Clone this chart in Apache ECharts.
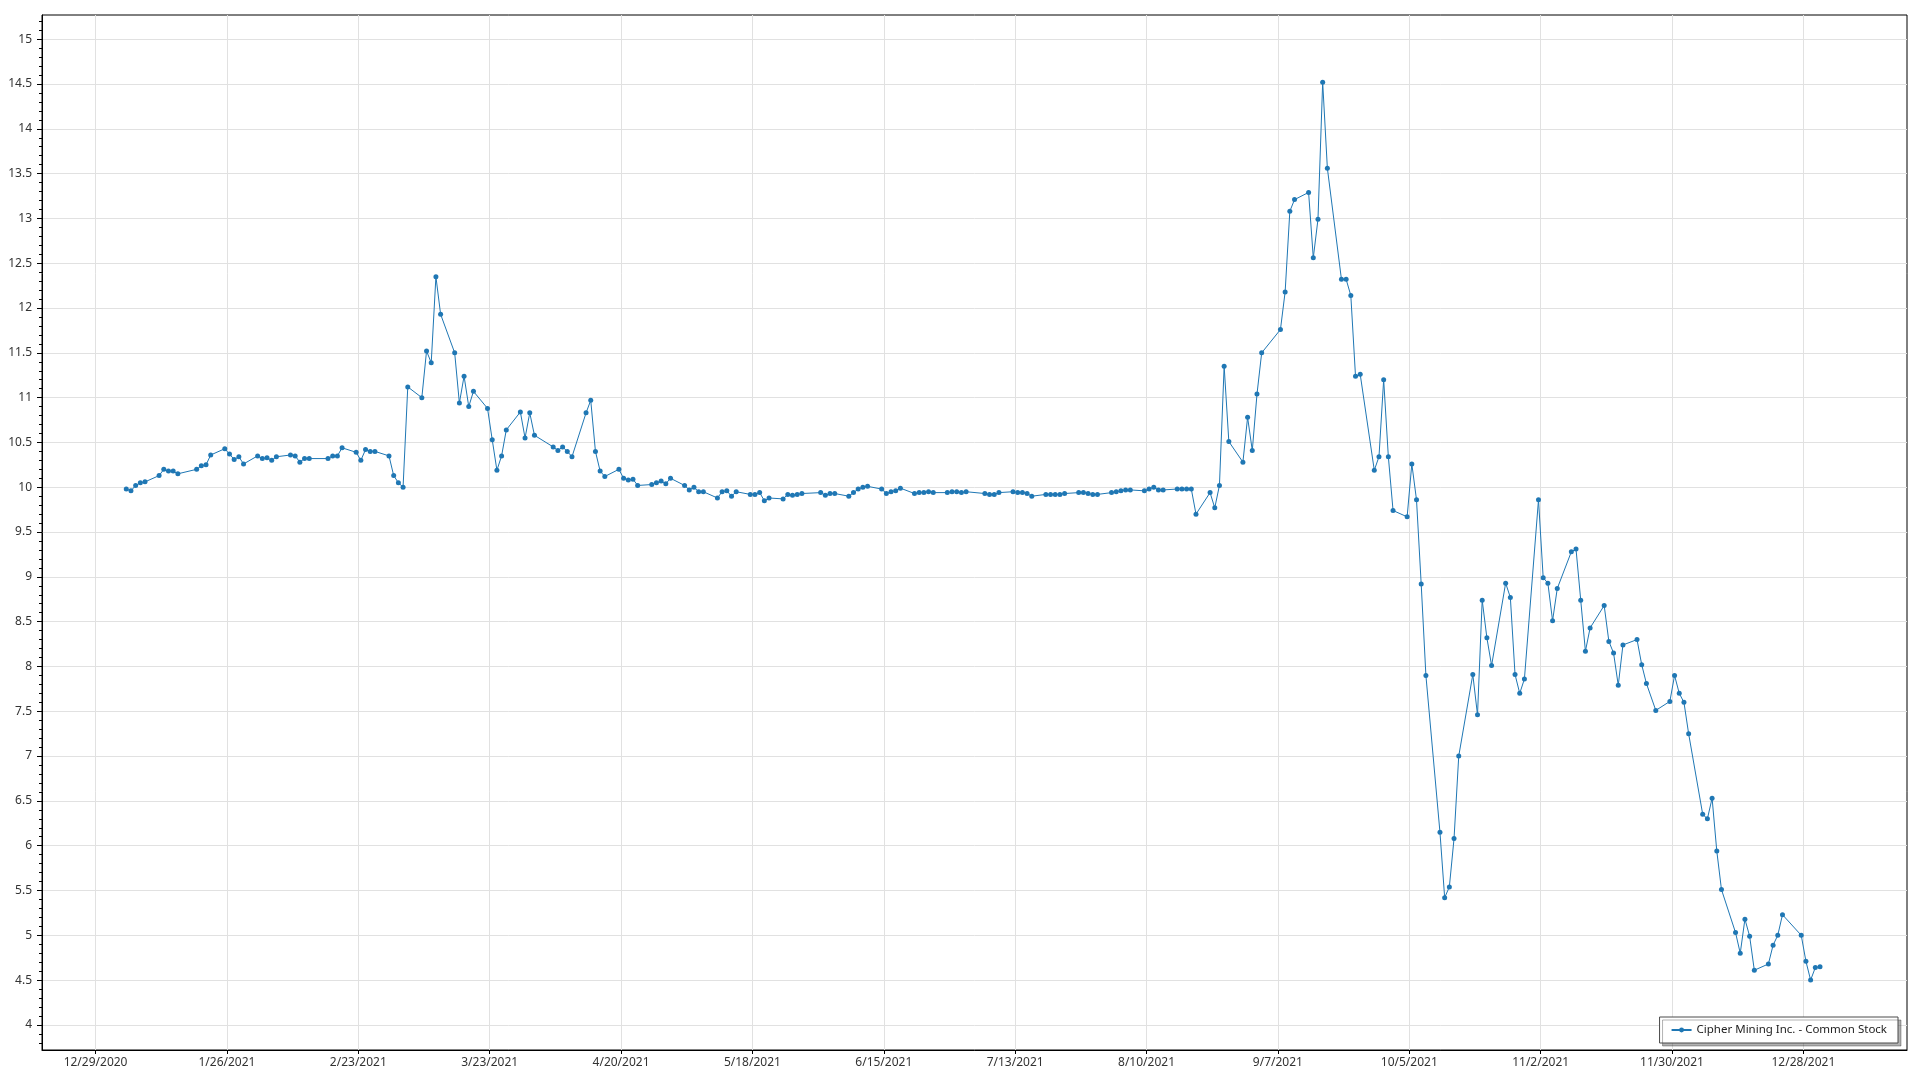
<!DOCTYPE html>
<html>
<head>
<meta charset="utf-8">
<script src="https://cdn.jsdelivr.net/npm/echarts@6/dist/echarts.min.js"></script>
<style>
html,body{margin:0;padding:0;background:#fff;}
#chart{width:1920px;height:1080px;}
</style>
</head>
<body>
<div id="chart"></div>
<script>
const seriesName = 'Cipher Mining Inc. - Common Stock';

const dates = [
'2021-01-04','2021-01-05','2021-01-06','2021-01-07','2021-01-08',
'2021-01-11','2021-01-12','2021-01-13','2021-01-14','2021-01-15',
'2021-01-19','2021-01-20','2021-01-21','2021-01-22',
'2021-01-25','2021-01-26','2021-01-27','2021-01-28','2021-01-29',
'2021-02-01','2021-02-02','2021-02-03','2021-02-04','2021-02-05',
'2021-02-08','2021-02-09','2021-02-10','2021-02-11','2021-02-12',
'2021-02-16','2021-02-17','2021-02-18','2021-02-19',
'2021-02-22','2021-02-23','2021-02-24','2021-02-25','2021-02-26',
'2021-03-01','2021-03-02','2021-03-03','2021-03-04','2021-03-05',
'2021-03-08','2021-03-09','2021-03-10','2021-03-11','2021-03-12',
'2021-03-15','2021-03-16','2021-03-17','2021-03-18','2021-03-19',
'2021-03-22','2021-03-23','2021-03-24','2021-03-25','2021-03-26',
'2021-03-29','2021-03-30','2021-03-31','2021-04-01',
'2021-04-05','2021-04-06','2021-04-07','2021-04-08','2021-04-09',
'2021-04-12','2021-04-13','2021-04-14','2021-04-15','2021-04-16',
'2021-04-19','2021-04-20','2021-04-21','2021-04-22','2021-04-23',
'2021-04-26','2021-04-27','2021-04-28','2021-04-29','2021-04-30',
'2021-05-03','2021-05-04','2021-05-05','2021-05-06','2021-05-07',
'2021-05-10','2021-05-11','2021-05-12','2021-05-13','2021-05-14',
'2021-05-17','2021-05-18','2021-05-19','2021-05-20','2021-05-21',
'2021-05-24','2021-05-25','2021-05-26','2021-05-27','2021-05-28',
'2021-06-01','2021-06-02','2021-06-03','2021-06-04',
'2021-06-07','2021-06-08','2021-06-09','2021-06-10','2021-06-11',
'2021-06-14','2021-06-15','2021-06-16','2021-06-17','2021-06-18',
'2021-06-21','2021-06-22','2021-06-23','2021-06-24','2021-06-25',
'2021-06-28','2021-06-29','2021-06-30','2021-07-01','2021-07-02',
'2021-07-06','2021-07-07','2021-07-08','2021-07-09',
'2021-07-12','2021-07-13','2021-07-14','2021-07-15','2021-07-16',
'2021-07-19','2021-07-20','2021-07-21','2021-07-22','2021-07-23',
'2021-07-26','2021-07-27','2021-07-28','2021-07-29','2021-07-30',
'2021-08-02','2021-08-03','2021-08-04','2021-08-05','2021-08-06',
'2021-08-09','2021-08-10','2021-08-11','2021-08-12','2021-08-13',
'2021-08-16','2021-08-17','2021-08-18','2021-08-19','2021-08-20',
'2021-08-23','2021-08-24','2021-08-25','2021-08-26','2021-08-27',
'2021-08-30','2021-08-31','2021-09-01','2021-09-02','2021-09-03',
'2021-09-07','2021-09-08','2021-09-09','2021-09-10',
'2021-09-13','2021-09-14','2021-09-15','2021-09-16','2021-09-17',
'2021-09-20','2021-09-21','2021-09-22','2021-09-23','2021-09-24',
'2021-09-27','2021-09-28','2021-09-29','2021-09-30','2021-10-01',
'2021-10-04','2021-10-05','2021-10-06','2021-10-07','2021-10-08',
'2021-10-11','2021-10-12','2021-10-13','2021-10-14','2021-10-15',
'2021-10-18','2021-10-19','2021-10-20','2021-10-21','2021-10-22',
'2021-10-25','2021-10-26','2021-10-27','2021-10-28','2021-10-29',
'2021-11-01','2021-11-02','2021-11-03','2021-11-04','2021-11-05',
'2021-11-08','2021-11-09','2021-11-10','2021-11-11','2021-11-12',
'2021-11-15','2021-11-16','2021-11-17','2021-11-18','2021-11-19',
'2021-11-22','2021-11-23','2021-11-24','2021-11-26',
'2021-11-29','2021-11-30','2021-12-01','2021-12-02','2021-12-03',
'2021-12-06','2021-12-07','2021-12-08','2021-12-09','2021-12-10',
'2021-12-13','2021-12-14','2021-12-15','2021-12-16','2021-12-17',
'2021-12-20','2021-12-21','2021-12-22','2021-12-23',
'2021-12-27','2021-12-28','2021-12-29','2021-12-30','2021-12-31'
];

const prices = [
9.98,9.96,10.02,10.05,10.06,
10.13,10.20,10.18,10.18,10.15,
10.20,10.24,10.25,10.36,
10.43,10.37,10.31,10.34,10.26,
10.35,10.32,10.33,10.30,10.34,
10.36,10.35,10.28,10.32,10.32,
10.32,10.35,10.35,10.44,
10.39,10.30,10.42,10.40,10.40,
10.35,10.13,10.05,10.00,11.12,
11.00,11.52,11.39,12.35,11.93,
11.50,10.94,11.24,10.90,11.07,
10.88,10.53,10.19,10.35,10.64,
10.84,10.55,10.83,10.58,
10.45,10.41,10.45,10.40,10.34,
10.83,10.97,10.40,10.18,10.12,
10.20,10.10,10.08,10.09,10.02,
10.03,10.05,10.07,10.04,10.10,
10.02,9.97,10.00,9.95,9.95,
9.88,9.95,9.96,9.90,9.95,
9.92,9.92,9.94,9.85,9.88,
9.87,9.92,9.91,9.92,9.93,
9.94,9.91,9.93,9.93,
9.90,9.94,9.98,10.00,10.01,
9.98,9.93,9.95,9.96,9.99,
9.93,9.94,9.94,9.95,9.94,
9.94,9.95,9.95,9.94,9.95,
9.93,9.92,9.92,9.94,
9.95,9.94,9.94,9.93,9.90,
9.92,9.92,9.92,9.92,9.93,
9.94,9.94,9.93,9.92,9.92,
9.94,9.95,9.96,9.97,9.97,
9.96,9.98,10.00,9.97,9.97,
9.98,9.98,9.98,9.98,9.70,
9.94,9.77,10.02,11.35,10.51,
10.28,10.78,10.41,11.04,11.50,
11.76,12.18,13.08,13.21,
13.29,12.56,12.99,14.52,13.56,
12.32,12.32,12.14,11.24,11.26,
10.19,10.34,11.20,10.34,9.74,
9.67,10.26,9.86,8.92,7.90,
6.15,5.42,5.54,6.08,7.00,
7.91,7.46,8.74,8.32,8.01,
8.93,8.77,7.91,7.70,7.86,
9.86,8.99,8.93,8.51,8.87,
9.28,9.31,8.74,8.17,8.43,
8.68,8.28,8.15,7.79,8.24,
8.30,8.02,7.81,7.51,
7.61,7.90,7.70,7.60,7.25,
6.35,6.30,6.53,5.94,5.51,
5.03,4.80,5.18,4.99,4.61,
4.68,4.89,5.00,5.23,
5.00,4.71,4.50,4.64,4.65
];

// quotes are stamped at midday of each trading day
const quoteTime = 'T13:00';

const xTickDates = [
'2020-12-29','2021-01-26','2021-02-23','2021-03-23','2021-04-20',
'2021-05-18','2021-06-15','2021-07-13','2021-08-10','2021-09-07',
'2021-10-05','2021-11-02','2021-11-30','2021-12-28'
];
const yTickValues = [4,4.5,5,5.5,6,6.5,7,7.5,8,8.5,9,9.5,10,10.5,11,11.5,12,12.5,13,13.5,14,14.5,15];

const xMinDate = '2020-12-17T14:00';
const xMaxDate = '2022-01-19T02:00';
const yMin = 3.72;
const yMax = 15.27;

function parseLocal(s) {
  const [d, t] = s.split('T');
  const [y, m, dd] = d.split('-').map(Number);
  let hh = 0, mm = 0;
  if (t) { [hh, mm] = t.split(':').map(Number); }
  return new Date(y, m - 1, dd, hh, mm).getTime();
}
function fmtDate(v) {
  const d = new Date(v);
  return (d.getMonth() + 1) + '/' + d.getDate() + '/' + d.getFullYear();
}

const chart = echarts.init(document.getElementById('chart'), null, { renderer: 'canvas' });
const axisColor = '#000';
const gridColor = '#e1e1e1';
const font = '"Noto Sans", "Open Sans", sans-serif';
const xTicks = xTickDates.map(parseLocal);

chart.setOption({
  animation: false,
  backgroundColor: '#fff',
  textStyle: { fontFamily: font },
  grid: {
    left: 42, right: 13, top: 15, bottom: 30,
    show: true, borderColor: '#000', borderWidth: 1, backgroundColor: 'transparent'
  },
  xAxis: {
    type: 'value',
    scale: true,
    min: parseLocal(xMinDate),
    max: parseLocal(xMaxDate),
    axisLine: { show: true, onZero: false, lineStyle: { color: axisColor, width: 1 } },
    axisTick: { show: true, length: 4, customValues: xTicks, lineStyle: { color: axisColor } },
    axisLabel: {
      customValues: xTicks,
      formatter: fmtDate, color: '#333', fontSize: 12, margin: 7, fontFamily: font
    },
    splitLine: { show: true, lineStyle: { color: gridColor, width: 1 } }
  },
  yAxis: {
    type: 'value',
    min: yMin, max: yMax,
    splitNumber: 23,
    axisLine: { show: true, onZero: false, lineStyle: { color: axisColor, width: 1 } },
    axisTick: { show: true, length: 5, customValues: yTickValues, lineStyle: { color: axisColor } },
    minorTick: { show: true, splitNumber: 5, length: 3, lineStyle: { color: axisColor } },
    axisLabel: { customValues: yTickValues, color: '#333', fontSize: 12, margin: 10, fontFamily: font },
    splitLine: { show: true, lineStyle: { color: gridColor, width: 1 } }
  },
  legend: {
    right: 22, bottom: 37,
    data: [seriesName],
    backgroundColor: '#fff',
    borderColor: '#4a4a4a', borderWidth: 1,
    shadowColor: 'rgba(0,0,0,0.3)', shadowOffsetX: 3, shadowOffsetY: 3, shadowBlur: 0,
    padding: [7, 11, 7, 11],
    itemWidth: 20, itemHeight: 6,
    textStyle: { fontSize: 11.5, color: '#222', fontFamily: font }
  },
  series: [{
    name: seriesName,
    type: 'line',
    data: dates.map((d, i) => [parseLocal(d + quoteTime), prices[i]]),
    symbol: 'circle',
    symbolSize: 5,
    showSymbol: true,
    showAllSymbol: true,
    lineStyle: { color: '#1f77b4', width: 1 },
    itemStyle: { color: '#1f77b4' },
    emphasis: { disabled: true }
  }]
});
</script>
</body>
</html>
